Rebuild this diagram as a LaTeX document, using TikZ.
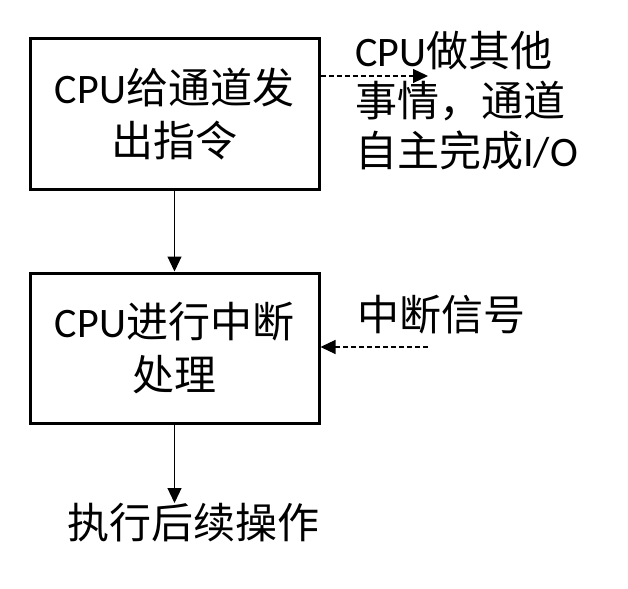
\documentclass[tikz,border=0pt]{standalone}
\usepackage{fontspec}
\setmainfont{Carlito}
\newfontfamily\cjk{Noto Sans CJK SC}
\usetikzlibrary{arrows.meta}
\begin{document}
\begin{tikzpicture}[x=1pt,y=-1pt,
  font=\fontsize{42}{53}\selectfont,
  box/.style={draw, line width=3pt, minimum width=289pt, minimum height=150pt, align=center, inner sep=0pt},
  arr/.style={-{Triangle[length=15pt,width=14pt]}, line width=1.2pt},
  dasharr/.style={arr, dash pattern=on 5pt off 3pt},
  lbl/.style={inner sep=0pt}]
\useasboundingbox (0,0) rectangle (628,588);
\node[box] (b1) at (174.5,114) {CPU{\cjk 给通道发}\\{\cjk 出指令}};
\node[box] (b2) at (174.5,348) {CPU{\cjk 进行中断}\\{\cjk 处理}};
\node[lbl, anchor=west, align=left, font=\fontsize{42}{50}\selectfont] (t1) at (355,101) {CPU{\cjk 做其他}\\{\cjk 事情，通道}\\{\cjk 自主完成}I/O};
\node[lbl, anchor=west] (t2) at (357,315) {\cjk 中断信号};
\node[lbl, anchor=north] (t3) at (193,503) {\cjk 执行后续操作};
\coordinate (e1) at (428,76);
\coordinate (e2) at (428,347);
\draw[arr] (b1.south) -- (b2.north);
\draw[arr] (b2.south) -- (b2.south |- t3.north);
\draw[dasharr] (b1.east |- e1) -- (e1);
\draw[dasharr] (e2) -- (b2.east |- e2);
\end{tikzpicture}
\end{document}
